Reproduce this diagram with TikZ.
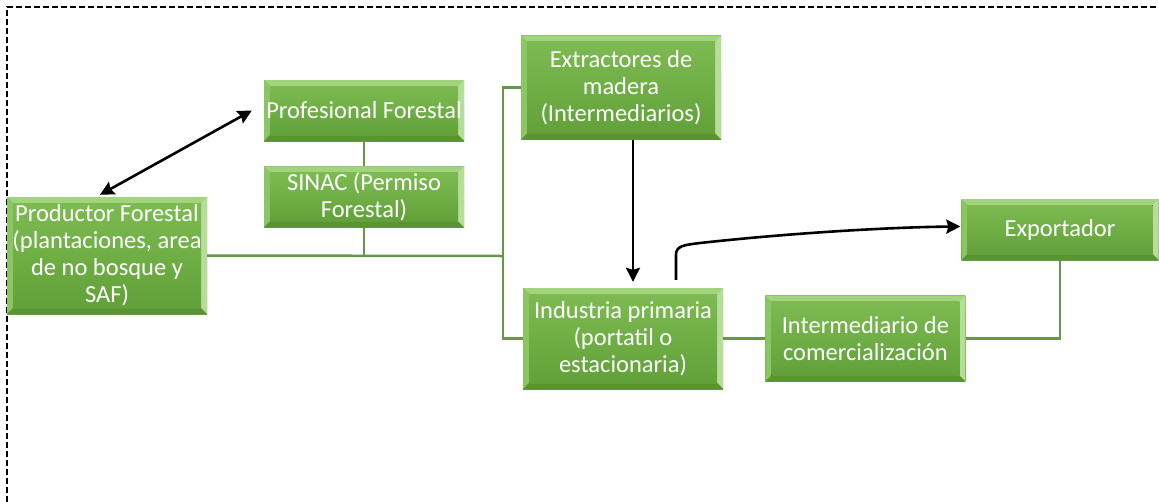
\documentclass[tikz,border=0pt]{standalone}
\usepackage{fontspec}
\setmainfont{Carlito}
\usetikzlibrary{arrows.meta,positioning}
\definecolor{gtop}{HTML}{7DBA52}
\definecolor{gbot}{HTML}{62A139}
\definecolor{bevhi}{HTML}{A2D47E}
\definecolor{bevlt}{HTML}{8CC564}
\definecolor{bevrt}{HTML}{B5DF98}
\definecolor{bevdk}{HTML}{5A9333}
\definecolor{linkgreen}{HTML}{66964A}

\begin{document}
\begin{tikzpicture}[x=1pt,y=-1pt,font=\fontsize{24.5}{27}\selectfont,
  stage/.style={top color=gtop,bottom color=gbot,text=white,align=center,inner sep=0pt,
    minimum width=200pt,minimum height=#1,
    path picture={
      \coordinate (nw) at (path picture bounding box.north west);
      \coordinate (ne) at (path picture bounding box.north east);
      \coordinate (sw) at (path picture bounding box.south west);
      \coordinate (se) at (path picture bounding box.south east);
      \fill[bevhi] (nw) -- (ne) -- ([shift={(-6pt,-6pt)}]ne) -- ([shift={(6pt,-6pt)}]nw) -- cycle;
      \fill[bevlt] (nw) -- ([shift={(6pt,-6pt)}]nw) -- ([shift={(6pt,6pt)}]sw) -- (sw) -- cycle;
      \fill[bevrt] (ne) -- ([shift={(-6pt,-6pt)}]ne) -- ([shift={(-6pt,6pt)}]se) -- (se) -- cycle;
      \fill[bevdk] (sw) -- ([shift={(6pt,6pt)}]sw) -- ([shift={(-6pt,6pt)}]se) -- (se) -- cycle;
      \fill[top color=gtop,bottom color=gbot] ([shift={(6pt,-6pt)}]nw) rectangle ([shift={(-6pt,6pt)}]se);}},
  link/.style={draw=linkgreen,line width=2.5pt},
  arr/.style={-{Stealth[length=14pt,width=14pt,inset=2pt]},line width=2.6pt},
  dbl/.style={{Stealth[length=14pt,width=14pt,inset=2pt]}-{Stealth[length=14pt,width=14pt,inset=2pt]},line width=2.6pt}]
\clip (0,0) rectangle (1159,501);
% frame (only top and left edges show)
\draw[dashed,dash pattern=on 6pt off 3pt,line width=1.3pt] (7,520) |- (1180,7);
% left side
\node[stage=117pt] (prod) at (107,255.5) {Productor Forestal\\(plantaciones, area\\de no bosque y\\SAF)};
\node[stage=61pt] (prof) at (364,110.5) {Profesional Forestal};
\node[stage=61pt,below=25pt of prof] (sinac) {SINAC (Permiso\\Forestal)};
% middle
\node[stage=104pt] (extr) at (621,87.5) {Extractores de\\madera\\(Intermediarios)};
\node[stage=101pt] (ind) at (623,338.5) {Industria primaria\\(portatil o\\estacionaria)};
\node[stage=86pt,right=42pt of ind] (inter) {Intermediario de\\comercialización};
\node[stage=61pt,minimum width=197pt] (exp) at (1060,229.5) {Exportador};
% connectors
\coordinate (jn) at (503,256);
\draw[link] (prof) -- (sinac);
\draw[link] (prod.east) -- (jn);
\draw[link] (sinac.south) -- (sinac.south |- jn);
\draw[link] (extr.west) -| (jn) |- (ind.west);
\draw[link] (ind) -- (inter);
\draw[link] (inter.east) -| (exp.south);
\draw[dbl] ([xshift=-7pt,yshift=2pt]prod.north) -- ([xshift=-12pt]prof.west);
\draw[arr,shorten >=6pt] ([xshift=12pt]extr.south) -- ([xshift=12pt]extr.south |- ind.north);
\draw[arr] ([xshift=53pt,yshift=8pt]ind.north) -- ++(0,-25) .. controls ++(0,-9) and (684,245) .. (700,243)
  .. controls (800,232) and (900,227) .. ([xshift=-1pt,yshift=3pt]exp.west);
\end{tikzpicture}
\end{document}
